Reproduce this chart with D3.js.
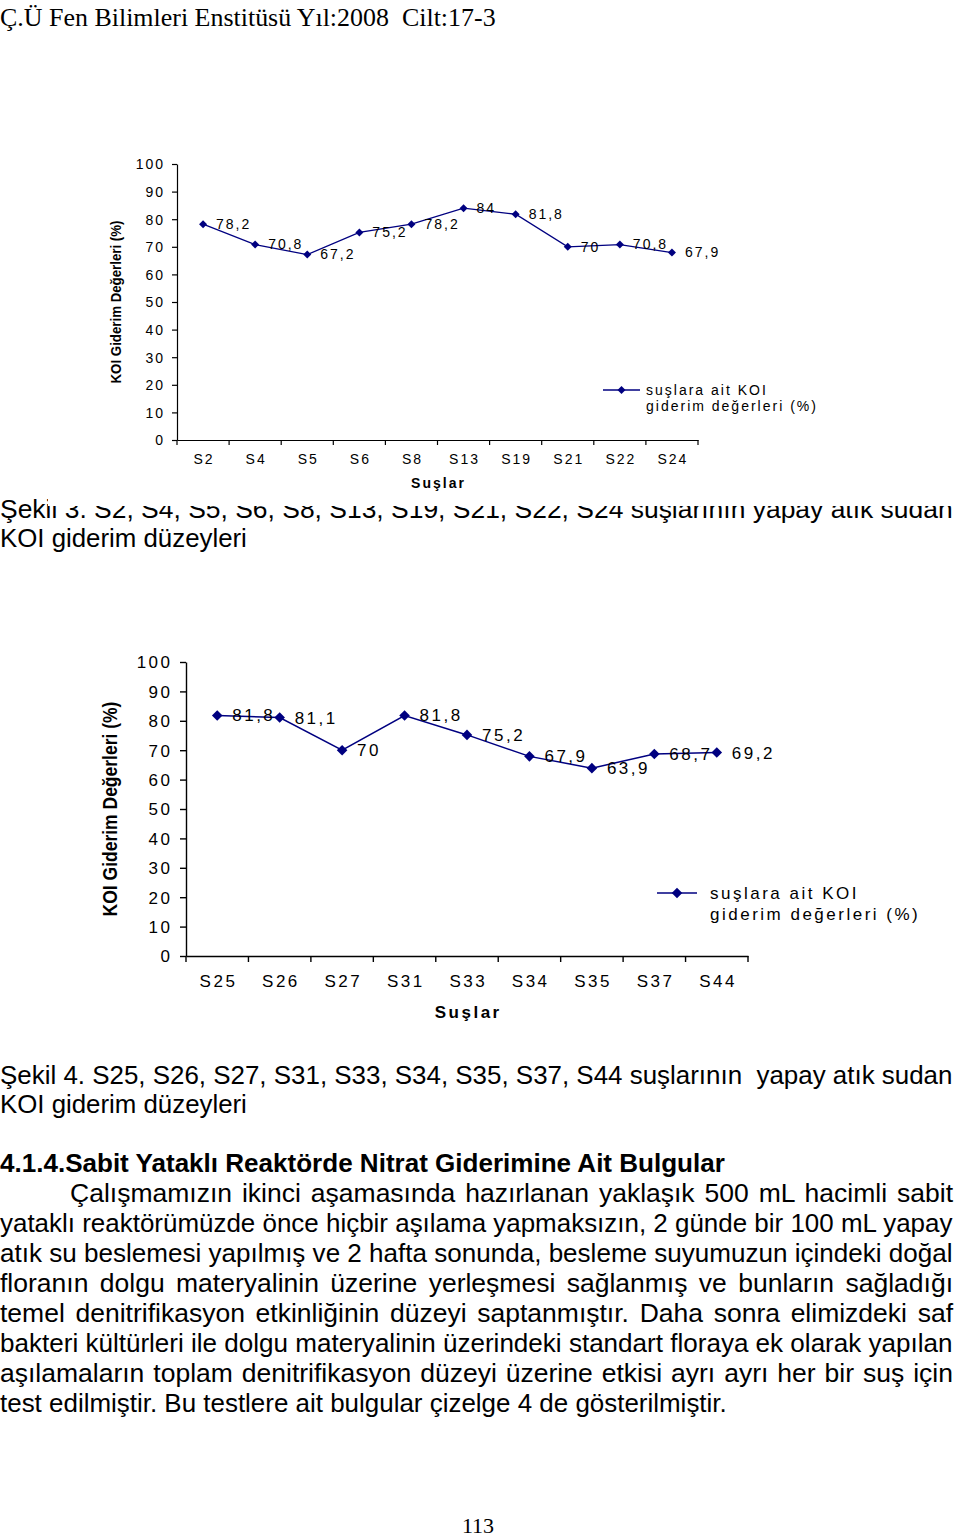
<!DOCTYPE html>
<html><head><meta charset="utf-8">
<script src="https://cdn.jsdelivr.net/npm/d3@7"></script>
<style>body{margin:0;background:#fff}svg{display:block}</style>
</head><body>
<script>
// ---- data ----
const categories1 = ["S2","S4","S5","S6","S8","S13","S19","S21","S22","S24"];
const values1 = [78.2,70.8,67.2,75.2,78.2,84,81.8,70,70.8,67.9];
const categories2 = ["S25","S26","S27","S31","S33","S34","S35","S37","S44"];
const values2 = [81.8,81.1,70,81.8,75.2,67.9,63.9,68.7,69.2];
const yTickValues = [0,10,20,30,40,50,60,70,80,90,100];
const yAxisTitle = "KOI Giderim Değerleri (%)";
const xAxisTitle = "Suşlar";
const legendLines = ["suşlara ait KOI","giderim değerleri (%)"];

const headerText = "Ç.Ü Fen Bilimleri Enstitüsü Yıl:2008  Cilt:17-3";
const caption3 = ["Şekil 3. S2, S4, S5, S6, S8, S13, S19, S21, S22, S24 suşlarının yapay atık sudan","KOI giderim düzeyleri"];
const caption4 = ["Şekil 4. S25, S26, S27, S31, S33, S34, S35, S37, S44 suşlarının  yapay atık sudan","KOI giderim düzeyleri"];
const headingText = "4.1.4.Sabit Yataklı Reaktörde Nitrat Giderimine Ait Bulgular";
const paragraph = [
"Çalışmamızın ikinci aşamasında hazırlanan yaklaşık 500 mL hacimli sabit",
"yataklı reaktörümüzde önce hiçbir aşılama yapmaksızın, 2 günde bir 100 mL yapay",
"atık su beslemesi yapılmış ve 2 hafta sonunda, besleme suyumuzun içindeki doğal",
"floranın dolgu materyalinin üzerine yerleşmesi sağlanmış ve bunların sağladığı",
"temel denitrifikasyon etkinliğinin düzeyi saptanmıştır. Daha sonra elimizdeki saf",
"bakteri kültürleri ile dolgu materyalinin üzerindeki standart floraya ek olarak yapılan",
"aşılamaların toplam denitrifikasyon düzeyi üzerine etkisi ayrı ayrı her bir suş için",
"test edilmiştir. Bu testlere ait bulgular çizelge 4 de gösterilmiştir."
];
const pageNumber = "113";

// ---- setup ----
const W = 960, H = 1537;
const navy = "#000080";
const chartFont = "'Liberation Sans', Arial, sans-serif";
const bodyFont = "'Liberation Sans Narrow', 'Arial Narrow', 'Liberation Sans', Arial, sans-serif";
const serifFont = "'Liberation Serif', 'Times New Roman', serif";
const fmt = v => String(v).replace(".", ",");
const BODY = 26.5;

const svg = d3.select("body").append("svg").attr("width", W).attr("height", H);
svg.append("rect").attr("width", W).attr("height", H).attr("fill", "#fff");

function addLine(txt, x, y, size, family, target, justify, weight) {
  const t = svg.append("text")
    .attr("x", 0).attr("y", 0)
    .attr("transform", `translate(${x},${y})`)
    .attr("font-family", family).attr("font-size", size)
    .attr("font-weight", weight || "normal")
    .style("white-space", "pre")
    .attr("fill", "#000").text(txt);
  if (!target) return t;
  const node = t.node();
  const w = node.getComputedTextLength();
  const spaces = (txt.match(/ /g) || []).length;
  if (justify && w < target && spaces > 0) {
    t.style("word-spacing", ((target - w) / spaces) + "px");
  } else {
    t.attr("transform", `translate(${x},${y}) scale(${target / w},1)`);
  }
  return t;
}

function drawChart(cfg, cats, vals) {
  const g = svg.append("g");
  const x = d3.scaleBand().domain(cats).range([cfg.x0, cfg.x1]);
  const y = d3.scaleLinear().domain([0, 100]).range([cfg.yB, cfg.yT]);

  // y axis
  const ya = g.append("g").attr("transform", `translate(${cfg.x0},0)`)
    .call(d3.axisLeft(y).tickValues(yTickValues).tickSize(cfg.tick).tickSizeOuter(0));
  ya.attr("font-size", null).attr("font-family", null);
  ya.select(".domain").attr("stroke", "#000").attr("stroke-width", cfg.axisW);
  ya.selectAll(".tick line").attr("stroke", "#000").attr("stroke-width", cfg.axisW);
  ya.selectAll(".tick text")
    .attr("x", -cfg.yLabGap + cfg.ls).attr("dy", "0.35em")
    .attr("font-family", chartFont).attr("font-size", cfg.fs)
    .attr("letter-spacing", cfg.ls).attr("fill", "#000");

  // x axis
  const xa = g.append("g").attr("transform", `translate(0,${cfg.yB})`)
    .call(d3.axisBottom(x).tickSize(0).tickSizeOuter(0));
  xa.attr("font-size", null).attr("font-family", null);
  xa.select(".domain").attr("stroke", "#000").attr("stroke-width", cfg.axisW);
  xa.selectAll(".tick text")
    .attr("y", cfg.xLabGap).attr("dy", "0.35em").attr("dx", cfg.ls / 2)
    .attr("font-family", chartFont).attr("font-size", cfg.fs)
    .attr("letter-spacing", cfg.ls).attr("fill", "#000");
  const bounds = cats.map(c => x(c)).concat([x.range()[1]]);
  g.append("g").selectAll("line").data(bounds).join("line")
    .attr("x1", d => d).attr("x2", d => d)
    .attr("y1", cfg.yB).attr("y2", cfg.yB + cfg.tick)
    .attr("stroke", "#000").attr("stroke-width", cfg.axisW);

  // series
  const data = cats.map((c, i) => ({ c, v: vals[i] }));
  const cx = d => x(d.c) + x.bandwidth() / 2;
  g.append("path").datum(data)
    .attr("d", d3.line().x(cx).y(d => y(d.v)))
    .attr("fill", "none").attr("stroke", navy).attr("stroke-width", cfg.lineW);
  const sym = d3.symbol(d3.symbolSquare).size(cfg.mArea);
  g.append("g").selectAll("path").data(data).join("path")
    .attr("d", sym)
    .attr("transform", d => `translate(${cx(d)},${y(d.v)}) rotate(45)`)
    .attr("fill", navy);
  g.append("g").selectAll("text").data(data).join("text")
    .attr("x", d => cx(d) + cfg.labDx).attr("y", d => y(d.v)).attr("dy", "0.35em")
    .attr("font-family", chartFont).attr("font-size", cfg.fs)
    .attr("letter-spacing", cfg.ls).attr("fill", "#000")
    .text(d => fmt(d.v));

  // axis titles (y title compressed horizontally like the original narrow face)
  const yt = g.append("text")
    .attr("text-anchor", "middle").attr("dy", "0.35em")
    .attr("font-family", chartFont).attr("font-weight", "bold")
    .attr("font-size", cfg.yTitleFs).attr("fill", "#000").text(yAxisTitle);
  const yw = yt.node().getComputedTextLength();
  yt.attr("transform", `translate(${cfg.yTitleX},${(cfg.yT + cfg.yB) / 2}) rotate(-90) scale(${cfg.yTitleLen / yw},1)`);
  g.append("text")
    .attr("x", (cfg.x0 + cfg.x1) / 2 + cfg.ls / 2).attr("y", cfg.xTitleY).attr("dy", "0.35em")
    .attr("text-anchor", "middle")
    .attr("font-family", chartFont).attr("font-weight", "bold")
    .attr("font-size", cfg.fs).attr("letter-spacing", cfg.ls).attr("fill", "#000")
    .text(xAxisTitle);

  // legend
  const lg = g.append("g");
  lg.append("line").attr("x1", cfg.legX).attr("x2", cfg.legX + cfg.legLen)
    .attr("y1", cfg.legY).attr("y2", cfg.legY)
    .attr("stroke", navy).attr("stroke-width", cfg.lineW);
  lg.append("path").attr("d", sym)
    .attr("transform", `translate(${cfg.legX + cfg.legLen / 2},${cfg.legY}) rotate(45)`)
    .attr("fill", navy);
  lg.selectAll("text").data(legendLines).join("text")
    .attr("x", cfg.legTextX).attr("y", (d, i) => cfg.legY + i * cfg.legLH).attr("dy", "0.35em")
    .attr("font-family", chartFont).attr("font-size", cfg.fs)
    .attr("letter-spacing", cfg.ls).attr("fill", "#000")
    .text(d => d);
}

// ---- page text ----
addLine(headerText, 0, 26, 25, serifFont, 496, false);

// caption 3 (top partly hidden by chart image)
addLine(caption3[0], 0, 518, BODY, bodyFont, 953, true);
addLine(caption3[1], 0, 547, BODY, bodyFont, 247, false);
svg.append("rect").attr("x", 48).attr("y", 492).attr("width", 912).attr("height", 14).attr("fill", "#fff");

// charts
drawChart({
  x0: 177, x1: 698, yB: 440, yT: 164, tick: 5, axisW: 1.2,
  fs: 14, ls: 2, yLabGap: 14, xLabGap: 19, lineW: 1.3, mArea: 32, labDx: 13,
  yTitleX: 116, yTitleFs: 15, yTitleLen: 163, xTitleY: 483,
  legX: 603, legLen: 37, legY: 390, legTextX: 646, legLH: 16
}, categories1, values1);

drawChart({
  x0: 186, x1: 748, yB: 956, yT: 662, tick: 6, axisW: 1.4,
  fs: 17, ls: 2.5, yLabGap: 16, xLabGap: 25, lineW: 1.5, mArea: 56, labDx: 15,
  yTitleX: 110, yTitleFs: 20, yTitleLen: 215, xTitleY: 1012,
  legX: 657, legLen: 40, legY: 893, legTextX: 710, legLH: 21
}, categories2, values2);

addLine(caption4[0], 0, 1084, BODY, bodyFont, 953, true);
addLine(caption4[1], 0, 1113, BODY, bodyFont, 247, false);
addLine(headingText, 0, 1172, BODY, bodyFont, 725, false, "bold");
paragraph.forEach((ln, i) => {
  const last = i === paragraph.length - 1;
  const x = i === 0 ? 70 : 0;
  addLine(ln, x, 1202 + 30 * i, BODY, bodyFont, last ? 727 : 953 - x, !last);
});
svg.append("text").attr("x", 478).attr("y", 1533).attr("text-anchor", "middle")
  .attr("font-family", serifFont).attr("font-size", 22).attr("fill", "#000").text(pageNumber);
</script>
</body></html>
